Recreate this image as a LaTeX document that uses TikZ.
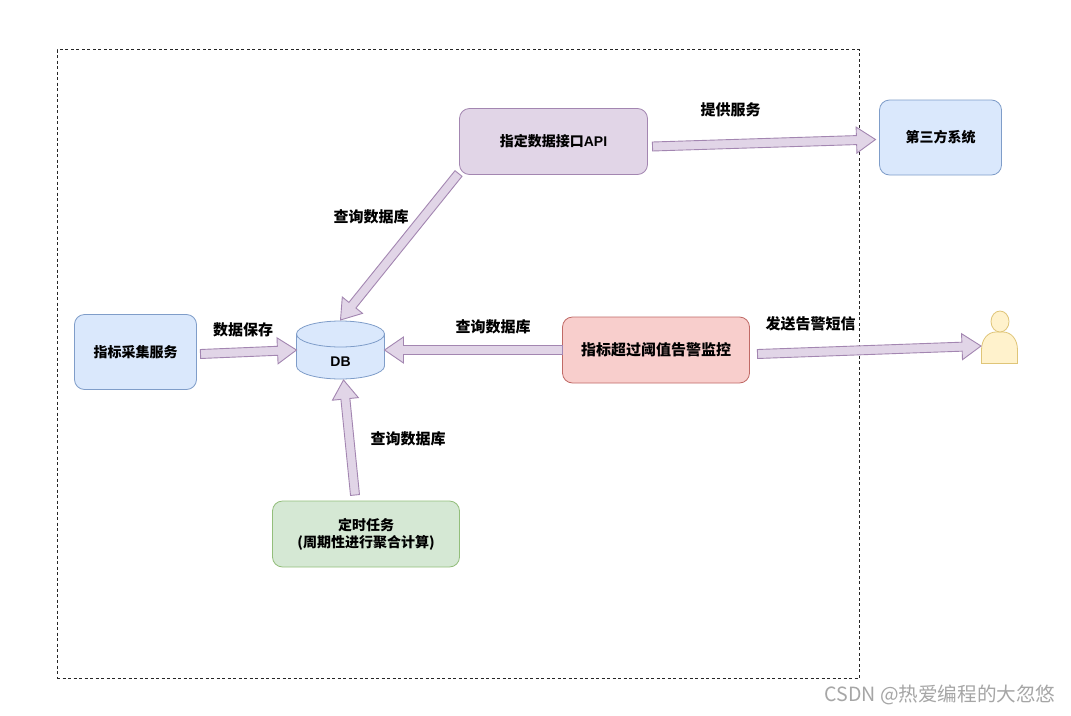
\documentclass[tikz,border=0pt]{standalone}
\usepackage{fontspec}
\setmainfont{Noto Sans CJK SC}
\newfontfamily\latinbold{Liberation Sans}
\usetikzlibrary{calc,shapes.geometric}
\definecolor{bluef}{HTML}{DAE8FC}\definecolor{blued}{HTML}{7F9DC9}
\definecolor{purf}{HTML}{E1D5E7}\definecolor{purd}{HTML}{A386B1}
\definecolor{redf}{HTML}{F8CECC}\definecolor{redd}{HTML}{C06A66}
\definecolor{grnf}{HTML}{D5E8D4}\definecolor{grnd}{HTML}{93BE7B}
\definecolor{yelf}{HTML}{FFF2CC}\definecolor{yeld}{HTML}{DFC578}
\tikzset{
  box/.style={rectangle,rounded corners=10pt,line width=0.8pt,outer sep=0pt,inner sep=0pt,align=center,font=\fontsize{14}{17}\selectfont\bfseries},
  bluebox/.style={box,fill=bluef,draw=blued,minimum width=122pt,minimum height=75pt},
  purbox/.style={box,fill=purf,draw=purd,minimum width=188pt,minimum height=66pt},
  redbox/.style={box,fill=redf,draw=redd,minimum width=187pt,minimum height=66pt,font=\fontsize{15}{18}\selectfont\bfseries},
  grnbox/.style={box,fill=grnf,draw=grnd,minimum width=187pt,minimum height=66pt},
  dbbody/.style={fill=bluef,draw=blued,line width=0.8pt},
  dbnode/.style={rectangle,minimum width=88pt,minimum height=58pt,inner sep=0pt,outer sep=0pt},
  dbtext/.style={inner sep=0pt,font=\latinbold\fontsize{14}{17}\selectfont\bfseries},
  lab/.style={font=\fontsize{15}{18}\selectfont\bfseries,inner sep=0pt},
  fat/.style={fill=purf,draw=purd,line width=0.9pt,line join=miter},
  person/.style={fill=yelf,draw=yeld,line width=0.8pt},
}
\newcommand\fatarrow[2]{%
  \coordinate (fb) at ($(#2)!19pt!(#1)$);
  \draw[fat] ($(#1)!4.5pt!90:(#2)$) -- ($(fb)!4.5pt!90:(#2)$) -- ($(fb)!13pt!90:(#2)$) -- (#2)
    -- ($(fb)!13pt!-90:(#2)$) -- ($(fb)!4.5pt!-90:(#2)$) -- ($(#1)!4.5pt!-90:(#2)$) -- cycle;
}
\begin{document}
\begin{tikzpicture}[x=1pt,y=-1pt]
\useasboundingbox (0,0) rectangle (1071,715);
\fill[white] (0,0) rectangle (1071,715);
\node[draw=black!85,dash pattern=on 3pt off 2.5pt,line width=0.7pt,minimum width=802pt,minimum height=629pt,inner sep=0pt,outer sep=0pt] (frame) at (458,364) {};
\node[bluebox] (svc) at (135.5,352) {指标采集服务};
\node[purbox] (api) at (553.5,141.5) {指定数据接口{\latinbold\bfseries API}};
\node[bluebox] (third) at (940.5,137.5) {第三方系统};
\node[redbox] (alarm) at (656,350) {指标超过阈值告警监控};
\node[grnbox] (task) at (366,534) {定时任务\\(周期性进行聚合计算)};
% database cylinder
\node[dbnode] (db) at (340.5,350) {};
\draw[dbbody] ($(db.north west)+(0,13)$) -- ($(db.south west)+(0,-13)$) arc[start angle=180,end angle=360,x radius=44pt,y radius=13pt]
  -- ($(db.north east)+(0,13)$) arc[start angle=0,end angle=180,x radius=44pt,y radius=13pt] -- cycle;
\draw[blued,line width=0.8pt] ($(db.north west)+(0,13)$) arc[start angle=180,end angle=360,x radius=44pt,y radius=13pt];
\node[dbtext] (dbt) at ($(db.center)+(0,12)$) {DB};
% person
\draw[person] (981.5,363.5) -- (981.5,350) .. controls (981.5,339) and (988,332) .. (996,332) -- (1003,332) .. controls (1011,332) and (1017.5,339) .. (1017.5,350) -- (1017.5,363.5) -- cycle;
\node[person,draw,ellipse,minimum width=18pt,minimum height=21pt,inner sep=0pt,outer sep=0pt] (head) at (1000,321.5) {};
% connectors
\coordinate (a1s) at ($(api.south west)+(-1,-1)$);
\coordinate (a1e) at ($(db.north)+(0,-1)$);
\coordinate (a2s) at ($(api.east)+(5,5)$);
\coordinate (a2e) at ($(third.west)+(-4,2)$);
\coordinate (a3s) at ($(svc.east)+(4,2)$);
\coordinate (a3e) at (db.west);
\coordinate (a4s) at (alarm.west);
\coordinate (a4e) at (db.east);
\coordinate (a5s) at ($(alarm.east)+(8,4)$);
\coordinate (a5e) at (981,346);
\coordinate (a6s) at ($(task.north)+(-11,-6)$);
\coordinate (a6e) at ($(db.south)+(3,1)$);
\fatarrow{a1s}{a1e}
\fatarrow{a2s}{a2e}
\fatarrow{a3s}{a3e}
\fatarrow{a4s}{a4e}
\fatarrow{a5s}{a5e}
\fatarrow{a6s}{a6e}
% labels
\node[lab] (l1) at (730.5,110) {提供服务};
\node[lab] (l2) at (371,216.5) {查询数据库};
\node[lab] (l3) at (243,330) {数据保存};
\node[lab] (l4) at (493,326.5) {查询数据库};
\node[lab] (l5) at (810.5,324) {发送告警短信};
\node[lab] (l6) at (408,438.5) {查询数据库};
\node[font=\fontsize{19.6}{22}\selectfont,text=black!35,inner sep=0pt] (wm) at (940,695) {CSDN @热爱编程的大忽悠};
\end{tikzpicture}
\end{document}
